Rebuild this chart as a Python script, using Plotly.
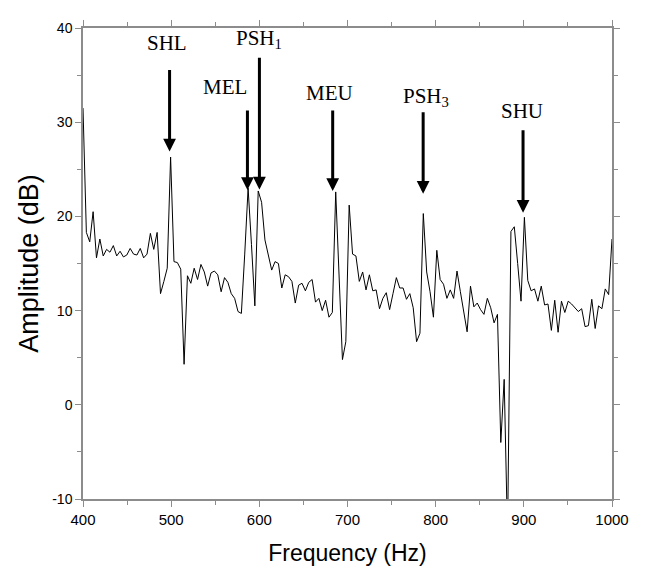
import plotly.graph_objects as go

# Frequency grid (FFT bins, Hz) and amplitude values (dB)
freq_start_hz = 400.0
freq_step_hz = 3.8217
amp_db = [
    31.5, 18.3, 17.3, 20.5, 15.6, 17.6, 15.8, 16.5, 16.2, 16.9,
    15.8, 16.3, 15.7, 15.9, 16.6, 16.0, 15.9, 16.6, 15.6, 16.0,
    18.2, 16.5, 18.3, 11.8, 13.1, 14.5, 26.3, 15.2, 15.1, 14.4,
    4.3, 13.7, 12.9, 14.5, 13.3, 14.9, 14.1, 12.6, 14.0, 14.2,
    13.8, 12.0, 13.5, 13.0, 11.8, 11.3, 9.9, 9.7, 16.0, 23.0,
    17.0, 10.5, 22.7, 21.5, 17.5, 16.0, 14.3, 15.2, 15.0, 12.4,
    13.8, 13.6, 13.1, 10.8, 12.7, 12.9, 12.1, 13.0, 13.3, 10.9,
    11.3, 10.0, 11.1, 9.3, 9.8, 22.6, 13.5, 4.8, 6.7, 21.2,
    16.0, 15.8, 13.1, 14.1, 12.2, 13.8, 12.1, 12.2, 10.2, 11.3,
    11.9, 10.1, 11.8, 13.5, 12.4, 12.4, 11.2, 11.8, 10.3, 6.7,
    7.6, 20.3, 14.1, 12.0, 9.3, 16.4, 13.3, 12.8, 11.3, 12.2,
    11.3, 14.2, 12.0, 9.8, 7.75, 12.6, 10.4, 10.8, 10.1, 9.6,
    11.3, 10.3, 8.7, 9.6, -4.0, 2.7, -14.0, 18.4, 18.9, 15.0,
    11.0, 19.9, 13.2, 12.1, 12.3, 11.0, 12.6, 10.6, 10.7, 7.9,
    11.1, 7.7, 11.0, 9.8, 11.0, 10.7, 10.3, 9.9, 10.2, 8.3,
    8.4, 11.2, 8.1, 10.5, 10.2, 12.3, 11.7, 17.6,
]
freq_hz = [round(freq_start_hz + i * freq_step_hz, 2) for i in range(len(amp_db))]

# Peak annotations: label, arrow x (Hz), arrow tip (dB), arrow tail (dB), label x, label y
peak_labels = ["SHL", "MEL", "PSH<sub>1</sub>", "MEU", "PSH<sub>3</sub>", "SHU"]
arrow_x_hz = [498.2, 586.5, 600.1, 683.2, 785.8, 899.1]
arrow_tip_db = [26.9, 22.8, 22.85, 22.7, 22.4, 20.4]
arrow_tail_db = [35.6, 31.3, 36.9, 31.3, 31.1, 29.2]
label_x_hz = [495.5, 561.5, 600.0, 679.5, 788.5, 897.5]
label_y_db = [38.45, 33.75, 38.85, 33.15, 32.65, 31.15]

x_ticks = [400, 500, 600, 700, 800, 900, 1000]
y_ticks = [-10, 0, 10, 20, 30, 40]

fig = go.Figure()
fig.add_trace(go.Scatter(
    x=freq_hz, y=amp_db, mode="lines",
    line=dict(color="black", width=1),
    showlegend=False, hoverinfo="skip",
))

annotations = []
for xh, tip, tail in zip(arrow_x_hz, arrow_tip_db, arrow_tail_db):
    annotations.append(dict(
        x=xh, y=tip, ax=xh, ay=tail, xref="x", yref="y", axref="x", ayref="y",
        text="", font=dict(size=1), borderpad=0,
        showarrow=True, arrowhead=2, arrowwidth=3, arrowsize=0.85,
        arrowcolor="black", standoff=0,
    ))
for lab, lx, ly in zip(peak_labels, label_x_hz, label_y_db):
    annotations.append(dict(
        x=lx, y=ly, xref="x", yref="y", text=lab, showarrow=False,
        font=dict(family="Liberation Serif, Times New Roman, serif", size=21, color="black"),
        xanchor="center", yanchor="middle",
    ))

axis_color = "#8c8c8c"
fig.update_layout(
    width=638, height=573,
    margin=dict(l=75, r=34, t=13, b=82),
    paper_bgcolor="white", plot_bgcolor="white",
    annotations=annotations,
    xaxis=dict(
        range=[400, 1000], tickvals=x_ticks, ticktext=[str(v) for v in x_ticks],
        showgrid=False, zeroline=False,
        showline=True, linecolor=axis_color, linewidth=1.5, mirror="ticks",
        ticks="outside", ticklen=6, tickwidth=1, tickcolor=axis_color,
        minor=dict(dtick=50, tick0=400, ticks="outside", ticklen=4, tickcolor=axis_color),
        tickfont=dict(family="Liberation Sans Narrow, Liberation Sans, Arial", size=15, color="black"),
        title=dict(text="Frequency (Hz)", standoff=18,
                   font=dict(family="Liberation Sans, Arial", size=23, color="black")),
    ),
    yaxis=dict(
        range=[-10, 40], tickvals=y_ticks, ticktext=[str(v) for v in y_ticks],
        showgrid=False, zeroline=False,
        showline=True, linecolor=axis_color, linewidth=1.5, mirror="ticks",
        ticks="outside", ticklen=6, tickwidth=1, tickcolor=axis_color,
        minor=dict(dtick=5, tick0=-10, ticks="outside", ticklen=4, tickcolor=axis_color),
        tickfont=dict(family="Liberation Sans Narrow, Liberation Sans, Arial", size=14, color="black"),
        title=dict(text="Amplitude (dB)", standoff=6,
                   font=dict(family="Liberation Sans, Arial", size=27, color="black")),
    ),
)

fig.write_html("out.html")
